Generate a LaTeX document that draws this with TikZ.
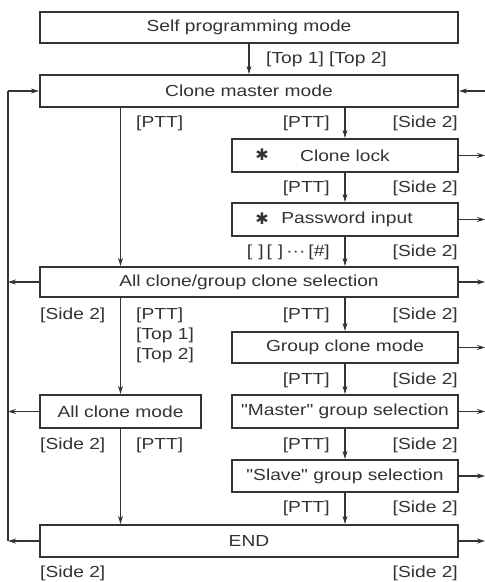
\documentclass[tikz,border=0pt]{standalone}
\usepackage{fontspec}
\setmainfont[FakeStretch=1.2, Ligatures=TeXOff]{Liberation Sans}
\newfontfamily\symfont{DejaVu Sans}
\usetikzlibrary{arrows.meta}
\definecolor{ink}{HTML}{333333}
\newcommand{\fs}{\fontsize{16}{18}\selectfont}
\begin{document}
\begin{tikzpicture}[x=1pt,y=-1pt,
  box/.style={draw=ink, line width=2.2pt, minimum height=31pt, inner sep=0pt, text=ink, font=\fs, fill=white},
  conn/.style={draw=ink, line width=1.1pt, -{Stealth[length=8pt,width=5pt]}},
  plain/.style={draw=ink, line width=1.1pt},
  lbl/.style={text=ink, font=\fs, inner sep=0pt},
  star/.style={text=ink, font=\symfont\fontsize{16}{16}\selectfont, inner sep=0pt}]
\useasboundingbox (0,0) rectangle (485,582);

% boxes
\node[box, minimum width=418pt] (self) at (249,27.5) {Self programming mode};
\node[box, minimum width=418pt, minimum height=32pt] (cm) at (249,91) {Clone master mode};
\node[box, minimum width=226pt, minimum height=33pt] (lock) at (345,155.5) {Clone lock};
\node[star] (lockstar) at (262,155) {✱};
\node[box, minimum width=226pt, minimum height=33pt] (pw) at (345,219.5) {\hspace*{4pt}Password input};
\node[star] (pwstar) at (262,219) {✱};
\node[box, minimum width=418pt, minimum height=30pt] (sel) at (249,282) {All clone/group clone selection};
\node[box, minimum width=226pt] (grp) at (345,347.5) {Group clone mode};
\node[box, minimum width=226pt, minimum height=33pt] (master) at (345,411.5) {"Master" group selection};
\node[box, minimum width=161pt, minimum height=33pt] (allc) at (120.5,411.5) {All clone mode};
\node[box, minimum width=226pt, minimum height=32pt] (slave) at (345,476) {"Slave" group selection};
\node[box, minimum width=418pt, minimum height=32pt] (end) at (249,541) {END};

% vertical connectors
\draw[conn] (self.south) -- (cm.north);
\draw[conn] (lock.north |- cm.south) -- (lock.north);
\draw[conn] (lock.south) -- (pw.north);
\draw[conn] (pw.south) -- (sel.north -| pw.south);
\draw[conn] (grp.north |- sel.south) -- (grp.north);
\draw[conn] (grp.south) -- (master.north);
\draw[conn] (master.south) -- (slave.north);
\draw[conn] (slave.south) -- (end.north -| slave.south);
\draw[conn] (cm.south -| allc.north) -- (sel.north -| allc.north);
\draw[conn] (sel.south -| allc.north) -- (allc.north);
\draw[conn] (allc.south) -- (end.north -| allc.south);

% left return line
\coordinate (L0) at (8,91);
\coordinate (L1) at (8,282);
\coordinate (L2) at (8,411.5);
\coordinate (L3) at (8,541);
\draw[plain] (L3) -- (L0);
\draw[conn] (L0) -- (cm.west);
\draw[conn] (sel.west) -- (L1);
\draw[conn] (allc.west) -- (L2);
\draw[conn] (end.west) -- (L3);

% right side arrows
\coordinate (R0) at (485,91);
\coordinate (R1) at (485,155.5);
\coordinate (R2) at (485,219.5);
\coordinate (R3) at (485,282);
\coordinate (R4) at (485,347.5);
\coordinate (R5) at (485,411.5);
\coordinate (R6) at (485,476);
\coordinate (R7) at (485,541);
\draw[conn] (R0) -- (cm.east);
\draw[conn] (lock.east) -- (R1);
\draw[conn] (pw.east) -- (R2);
\draw[conn] (sel.east) -- (R3);
\draw[conn] (grp.east) -- (R4);
\draw[conn] (master.east) -- (R5);
\draw[conn] (slave.east) -- (R6);
\draw[conn] (end.east) -- (R7);

% labels
\node[lbl, anchor=west] (t1) at (266,59) {[Top 1] [Top 2]};
\node[lbl, anchor=east] (p1) at (330,123) {[PTT]};
\node[lbl, anchor=east] (s1) at (458,123) {[Side 2]};
\node[lbl, anchor=west] (p1l) at (136,123) {[PTT]};
\node[lbl, anchor=east] (p2) at (330,188) {[PTT]};
\node[lbl, anchor=east] (s2) at (458,188) {[Side 2]};
\node[lbl, anchor=east] (p3) at (330,252) {[\hspace{6pt}]\hspace{3pt}[\hspace{6pt}]\hspace{3pt}···\hspace{3pt}[\#]};
\node[lbl, anchor=east] (s3) at (458,252) {[Side 2]};
\node[lbl, anchor=east] (p4) at (330,315) {[PTT]};
\node[lbl, anchor=east] (s4) at (458,315) {[Side 2]};
\node[lbl, anchor=west] (s4l) at (40,315) {[Side 2]};
\node[lbl, anchor=west] (p4l) at (136,315) {[PTT]};
\node[lbl, anchor=west] (t4a) at (136,335) {[Top 1]};
\node[lbl, anchor=west] (t4b) at (136,355) {[Top 2]};
\node[lbl, anchor=east] (p5) at (330,380) {[PTT]};
\node[lbl, anchor=east] (s5) at (458,380) {[Side 2]};
\node[lbl, anchor=east] (p6) at (330,445) {[PTT]};
\node[lbl, anchor=east] (s6) at (458,445) {[Side 2]};
\node[lbl, anchor=west] (s6l) at (40,445) {[Side 2]};
\node[lbl, anchor=west] (p6l) at (136,445) {[PTT]};
\node[lbl, anchor=east] (p7) at (330,508) {[PTT]};
\node[lbl, anchor=east] (s7) at (458,508) {[Side 2]};
\node[lbl, anchor=west] (s8l) at (40,573) {[Side 2]};
\node[lbl, anchor=east] (s8) at (458,573) {[Side 2]};
\end{tikzpicture}
\end{document}
